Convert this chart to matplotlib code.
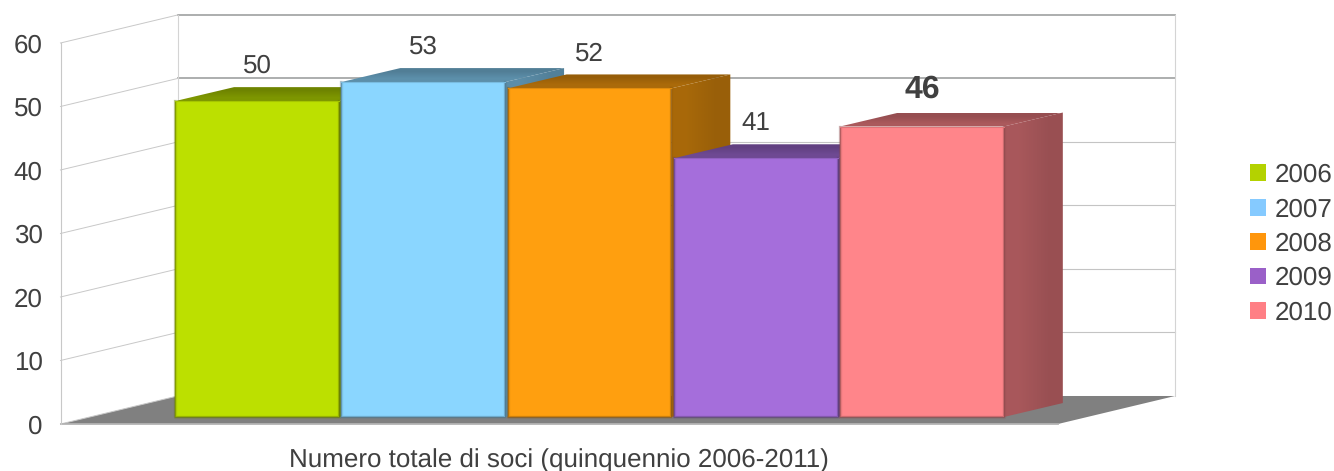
import matplotlib
matplotlib.use("Agg")
import matplotlib.pyplot as plt
import numpy as np
from matplotlib.colors import LinearSegmentedColormap, to_rgb
from matplotlib.patches import Patch, Polygon, Rectangle

years = ["2006", "2007", "2008", "2009", "2010"]
soci = [50, 53, 52, 41, 46]
bar_colors = ["#bce000", "#8ad6ff", "#ff9f0f", "#a56edb", "#ff858a"]
legend_colors = ["#b4d200", "#85caff", "#ff960c", "#9a60c8", "#ff7f85"]
y_ticks = [0, 10, 20, 30, 40, 50, 60]
x_title = "Numero totale di soci (quinquennio 2006-2011)"

TEXT = "#404040"
WALL_DX, WALL_DY = 0.704, 4.41   # depth of the chart box, in data units
BAR_DX, BAR_DY = 0.355, 2.2      # depth of one bar
BAR_TOP_SHIFT = 0.85
BAR_FOOT = 1.1
BAR_W = 0.985

plt.rcParams["font.family"] = ["Liberation Sans", "DejaVu Sans"]
plt.rcParams["text.hinting"] = "no_hinting"
plt.rcParams["text.hinting_factor"] = 1

fig = plt.figure(figsize=(13.34, 4.71), dpi=100)
ax = fig.add_axes([60.5 / 1334, 47 / 471, 997.5 / 1334, 381 / 471])
ax.set_xlim(-0.689, 5.311)
ax.set_ylim(0, 60)
ax.patch.set_alpha(0)


def shade(color, k):
    return tuple(c * k for c in to_rgb(color))


def gradient_face(pts, c0, c1, horizontal, z):
    xs = [p[0] for p in pts]
    ys = [p[1] for p in pts]
    grad = np.array([[0.0, 1.0]]) if horizontal else np.array([[0.0], [1.0]])
    cmap = LinearSegmentedColormap.from_list("face", [c0, c1])
    im = ax.imshow(grad, extent=(min(xs), max(xs), min(ys), max(ys)), aspect="auto",
                   cmap=cmap, zorder=z, interpolation="bilinear")
    im.set_clip_box(fig.bbox)
    im.set_clip_path(Polygon(pts, closed=True, transform=ax.transData))


# chart box: floor, back wall and left wall
x_left, x_right = ax.get_xlim()
ax.add_patch(Polygon([(x_left, 0), (x_right, 0), (x_right + WALL_DX, WALL_DY), (x_left + WALL_DX, WALL_DY)],
                     closed=True, fc="#808080", ec="none", zorder=1, clip_on=False))
for v in y_ticks:
    if v > 0:
        heavy = v >= 50
        ax.plot([x_left + WALL_DX, x_right + WALL_DX], [v + WALL_DY, v + WALL_DY],
                color="#a6a8a8" if heavy else "#c4c4c4", lw=1.3 if heavy else 0.8,
                zorder=1, clip_on=False)
    ax.plot([x_left, x_left + WALL_DX], [v, v + WALL_DY], color="#c8c8c8", lw=0.7,
            zorder=1, clip_on=False)
for x in [x_left + WALL_DX, x_right + WALL_DX]:
    ax.plot([x, x], [WALL_DY, 60 + WALL_DY], color="#d4d4d4", lw=0.8, zorder=1, clip_on=False)

# bars, left to right so each one covers the side of the previous one
for i, (v, col) in enumerate(zip(soci, bar_colors)):
    z = 3 + i
    x0 = i
    x1 = x0 + BAR_W
    y0 = BAR_FOOT
    y1 = v + BAR_TOP_SHIFT
    top = [(x0, y1), (x1, y1), (x1 + BAR_DX, y1 + BAR_DY), (x0 + BAR_DX, y1 + BAR_DY)]
    side = [(x1, y0), (x1, y1), (x1 + BAR_DX, y1 + BAR_DY), (x1 + BAR_DX, y0 + BAR_DY)]
    gradient_face(side, shade(col, 0.66), shade(col, 0.6), True, z)
    gradient_face(top, shade(col, 0.59), shade(col, 0.67), False, z)
    ax.add_patch(Rectangle((x0, y0), BAR_W, y1 - y0, fc=col, ec="none", zorder=z + 0.1, clip_on=False))
    # soft darker bevel along the sides and the bottom of the front face
    for lw, alpha in [(2.4, 0.2), (1.5, 0.3), (0.7, 0.4)]:
        ax.plot([x0, x0, x1, x1], [y1, y0, y0, y1], color=shade(col, 0.55), lw=lw, alpha=alpha,
                solid_joinstyle="round", zorder=z + 0.2, clip_on=False)
    ax.plot([x0, x1], [y1, y1], color=shade(col, 0.88), lw=0.8, zorder=z + 0.3, clip_on=False)

    bold = v == 46
    ax.text(x0 + BAR_W / 2, y1 + BAR_DY + (3.6 if bold else 3.25), str(v), ha="center", va="center",
            color=TEXT, fontsize=23 if bold else 18.7, fontweight="bold" if bold else "normal",
            zorder=20)

ax.set_yticks(y_ticks)
ax.set_xticks([])
ax.tick_params(axis="y", length=0, pad=13, labelsize=18.7, labelcolor=TEXT)
ax.set_xlabel(x_title, fontsize=18.65, color=TEXT, labelpad=18)

for name in ["top", "right"]:
    ax.spines[name].set_visible(False)
ax.spines["left"].set_color("#c8c8c8")
ax.spines["left"].set_linewidth(0.8)
ax.spines["bottom"].set_color("#b4b4b4")
ax.spines["bottom"].set_linewidth(1.3)
ax.spines["bottom"].set_zorder(2)

handles = [Patch(fc=c, ec="none") for c in legend_colors]
fig.legend(handles, years, loc="center left", bbox_to_anchor=(1245 / 1334, 1 - 244 / 471),
           frameon=False, fontsize=18.7, labelcolor=TEXT, handlelength=0.62, handleheight=0.62,
           handletextpad=0.32, labelspacing=0.39, borderpad=0.2, borderaxespad=0)

fig.savefig("out.png", dpi=100)
